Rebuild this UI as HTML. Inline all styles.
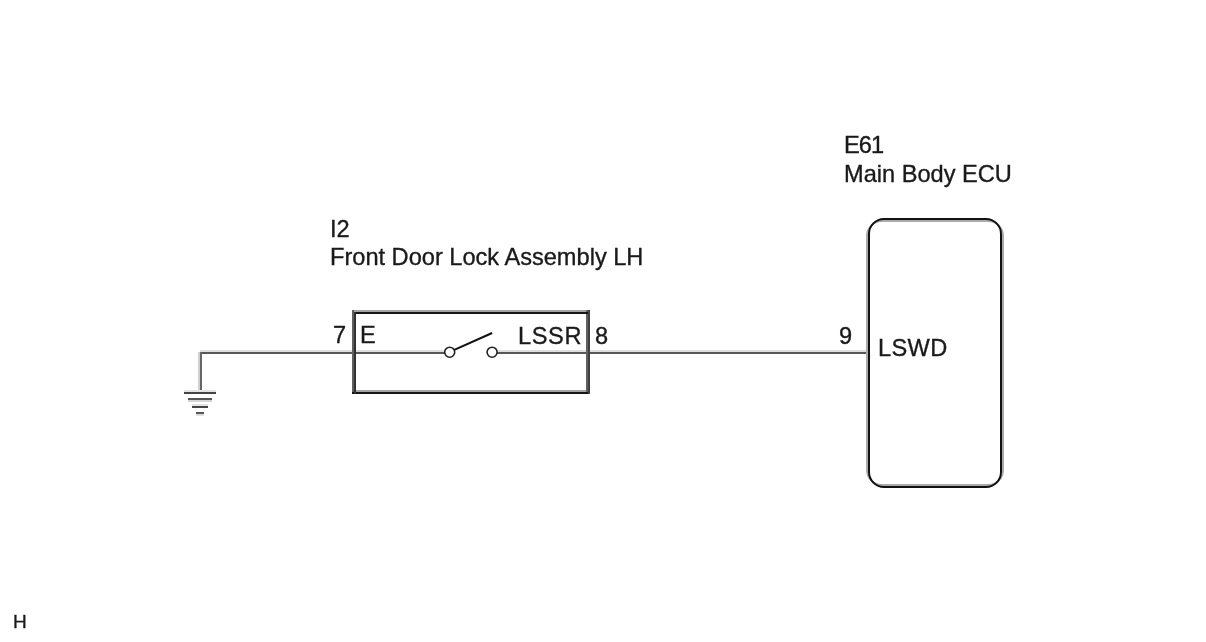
<!DOCTYPE html>
<html><head><meta charset="utf-8">
<style>
html,body{margin:0;padding:0;background:#fff;}
body{width:1206px;height:642px;position:relative;overflow:hidden;font-family:"Liberation Sans",sans-serif;color:#1a1a1a;}
.t{position:absolute;white-space:nowrap;font-size:23.6px;line-height:1;will-change:transform;-webkit-text-stroke:0.35px #1a1a1a;}
svg{position:absolute;left:0;top:0;}
</style></head><body>
<svg width="1206" height="642" viewBox="0 0 1206 642">
  <g shape-rendering="crispEdges">
    <!-- wire halo + core -->
    <rect x="200" y="350" width="250" height="2" fill="#dedede"/>
    <rect x="200" y="352" width="250" height="2" fill="#575757"/>
    <rect x="492" y="350" width="376" height="2" fill="#dedede"/>
    <rect x="492" y="352" width="376" height="2" fill="#575757"/>
    <!-- ground vertical -->
    <rect x="198" y="352" width="2" height="40" fill="#d0d0d0"/>
    <rect x="200" y="352" width="2" height="40" fill="#666"/>
    <!-- ground bars -->
    <rect x="184" y="390" width="32" height="2" fill="#e4e4e4"/>
    <rect x="184" y="392" width="32" height="2" fill="#444"/>
    <rect x="188" y="398" width="24" height="2" fill="#555"/>
    <rect x="188" y="400" width="24" height="2" fill="#d4d4d4"/>
    <rect x="192" y="404" width="16" height="2" fill="#e4e4e4"/>
    <rect x="192" y="406" width="16" height="2" fill="#444"/>
    <rect x="196" y="412" width="8" height="2" fill="#555"/>
    <rect x="196" y="414" width="8" height="2" fill="#e0e0e0"/>
    <!-- box 1 -->
    <rect x="352" y="310" width="238" height="2" fill="#a4a4a4"/>
    <rect x="352" y="390" width="238" height="2" fill="#a4a4a4"/>
    <rect x="352" y="310" width="2" height="84" fill="#606060"/>
    <rect x="586" y="310" width="2" height="84" fill="#606060"/>
    <rect x="354" y="312" width="236" height="2" fill="#151515"/>
    <rect x="352" y="392" width="236" height="2" fill="#151515"/>
    <rect x="354" y="312" width="2" height="82" fill="#303030"/>
    <rect x="588" y="310" width="2" height="84" fill="#404040"/>
  </g>
  <!-- ECU box -->
  <rect x="867" y="221" width="136" height="264" rx="15" ry="15" fill="none" stroke="#aaa" stroke-width="2"/>
  <rect x="869" y="219" width="132" height="268" rx="15" ry="15" fill="none" stroke="#111" stroke-width="2"/>
  <!-- switch -->
  <circle cx="449.7" cy="352.2" r="5" fill="#fff" stroke="#222" stroke-width="1.6"/>
  <circle cx="492.1" cy="352.2" r="5" fill="#fff" stroke="#222" stroke-width="1.6"/>
  <path d="M454.3 349.9 L492.1 333" stroke="#111" stroke-width="2"/>
</svg>
<div class="t" id="I2" style="left:330px;top:218px;">I2</div>
<div class="t" id="FD" style="left:330px;top:246px;">Front Door Lock Assembly LH</div>
<div class="t" id="E61" style="left:844px;top:134px;letter-spacing:-0.9px;">E61</div>
<div class="t" id="MB" style="left:844px;top:163px;">Main Body ECU</div>
<div class="t" id="n7" style="left:333px;top:324px;">7</div>
<div class="t" id="E" style="left:360px;top:324px;">E</div>
<div class="t" id="LSSR" style="left:518px;top:325px;letter-spacing:0.6px;">LSSR</div>
<div class="t" id="n8" style="left:595px;top:325px;">8</div>
<div class="t" id="n9" style="left:839px;top:325px;">9</div>
<div class="t" id="LSWD" style="left:878px;top:337px;letter-spacing:0.35px;">LSWD</div>
<div class="t" id="H" style="left:13px;top:612px;font-size:19px;">H</div>
</body></html>
